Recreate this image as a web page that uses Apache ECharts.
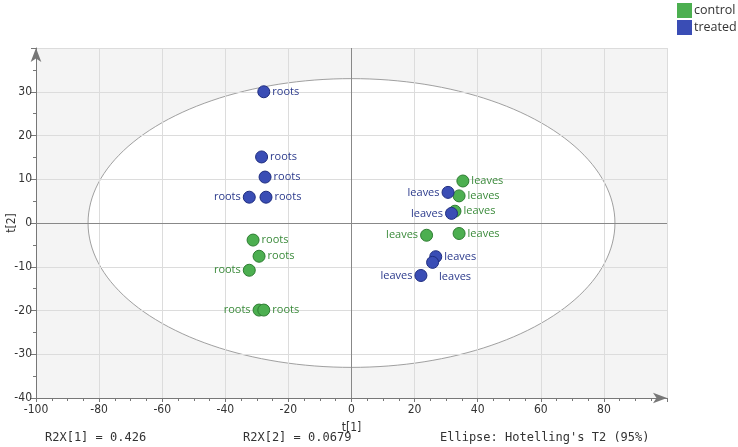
<!DOCTYPE html>
<html>
<head>
<meta charset="utf-8">
<script src="https://cdn.jsdelivr.net/npm/echarts@6/dist/echarts.min.js"></script>
<style>
  html, body { margin: 0; padding: 0; background: #fff; }
  #main { width: 738px; height: 447px; }
</style>
</head>
<body>
<div id="main"></div>
<script>
// score values
var controlX = [-31.2, -29.3, -32.4, -29.3, -27.8, 35.3, 34.1, 32.8, 23.8, 34.1];
var controlY = [-3.9, -7.6, -10.8, -19.9, -19.9, 9.6, 6.2, 2.7, -2.8, -2.4];
var controlNames = ['roots', 'roots', 'roots', 'roots', 'roots', 'leaves', 'leaves', 'leaves', 'leaves', 'leaves'];
var controlSide = ['right', 'right', 'left', 'left', 'right', 'right', 'right', 'right', 'left', 'right'];

var treatedX = [-27.8, -28.5, -27.4, -32.4, -27.1, 30.6, 31.7, 26.7, 25.7, 22.0];
var treatedY = [30.0, 15.1, 10.5, 5.9, 5.9, 7.0, 2.2, -7.7, -9.0, -12.0];
var treatedNames = ['roots', 'roots', 'roots', 'roots', 'roots', 'leaves', 'leaves', 'leaves', 'leaves', 'leaves'];
var treatedSide = ['right', 'right', 'right', 'left', 'right', 'left', 'left', 'right', 'below', 'left'];

// Hotelling's T2 (95%) ellipse semi axes
var ellipseRx = 83.5;
var ellipseRy = 33.0;

var footTexts = ['R2X[1] = 0.426', 'R2X[2] = 0.0679', "Ellipse: Hotelling's T2 (95%)"];

var labelFont = 'Open Sans';
var tickFont = '"DejaVu Sans Condensed", "DejaVu Sans", sans-serif';

function buildPoints(xs, ys, names, sides) {
    return xs.map(function (x, i) {
        var lab = { position: sides[i] === 'left' ? 'left' : 'right' };
        if (sides[i] === 'below') {
            lab.offset = [-2, 14];
        }
        return { value: [x, ys[i]], name: names[i], label: lab };
    });
}

var chart = echarts.init(document.getElementById('main'));

chart.setOption({
    animation: false,
    backgroundColor: '#fff',
    grid: { left: 36, right: 71, top: 48, bottom: 49, containLabel: false, outerBoundsMode: 'none' },
    legend: {
        orient: 'vertical',
        left: 677,
        top: 3,
        padding: 0,
        icon: 'rect',
        itemWidth: 15,
        itemHeight: 15,
        itemGap: 2,
        itemStyle: { borderWidth: 0 },
        textStyle: { fontFamily: labelFont, fontSize: 12.5, color: '#333', padding: [0, 0, 0, -3] },
        data: ['control', 'treated']
    },
    xAxis: {
        type: 'value',
        min: -100,
        max: 100,
        interval: 20,
        name: 't[1]',
        nameLocation: 'middle',
        nameGap: 24,
        nameMoveOverlap: false,
        nameTextStyle: { fontFamily: tickFont, fontSize: 12, color: '#333' },
        axisLine: {
            onZero: false,
            symbol: ['none', 'arrow'],
            symbolSize: [8, 14],
            lineStyle: { color: '#777' }
        },
        axisTick: { length: 4, lineStyle: { color: '#777' } },
        minorTick: { show: true, splitNumber: 4, length: 3, lineStyle: { color: '#777' } },
        axisLabel: {
            fontFamily: tickFont, fontSize: 12, color: '#333', margin: 6,
            formatter: function (v) { return v === 100 ? '' : v; }
        },
        splitLine: { lineStyle: { color: '#dcdcdc' } }
    },
    yAxis: {
        type: 'value',
        min: -40,
        max: 40,
        interval: 10,
        name: 't[2]',
        nameLocation: 'middle',
        nameGap: 18,
        nameMoveOverlap: false,
        nameRotate: 90,
        nameTextStyle: { fontFamily: tickFont, fontSize: 12, color: '#333' },
        axisLine: {
            show: true,
            onZero: false,
            symbol: ['none', 'arrow'],
            symbolSize: [8, 14],
            lineStyle: { color: '#777' }
        },
        axisTick: { show: true, length: 5, lineStyle: { color: '#777' } },
        minorTick: { show: true, splitNumber: 2, length: 3, lineStyle: { color: '#777' } },
        axisLabel: {
            fontFamily: tickFont, fontSize: 12, color: '#333', margin: 4,
            formatter: function (v) { return v === 40 ? '' : v; }
        },
        splitLine: { lineStyle: { color: '#dcdcdc' } }
    },
    graphic: footTexts.map(function (t, i) {
        return {
            type: 'text',
            left: [45, 243, 440][i],
            top: 432,
            style: { text: t, font: '12px "DejaVu Sans Mono", monospace', fill: '#333' }
        };
    }),
    series: [
        {
            type: 'custom',
            z: -1,
            silent: true,
            data: [[0, 0]],
            renderItem: function (params, api) {
                var cs = params.coordSys;
                var c = api.coord([0, 0]);
                var rx = api.coord([ellipseRx, 0])[0] - c[0];
                var ry = c[1] - api.coord([0, ellipseRy])[1];
                var pts = [];
                for (var k = 0; k < 180; k++) {
                    var a = k / 180 * Math.PI * 2;
                    pts.push([c[0] + rx * Math.cos(a), c[1] + ry * Math.sin(a)]);
                }
                return {
                    type: 'group',
                    children: [
                        { type: 'rect', shape: { x: cs.x, y: cs.y, width: cs.width, height: cs.height },
                          style: { fill: '#f4f4f4' } },
                        { type: 'polygon', shape: { points: pts },
                          style: { fill: '#fff', stroke: '#a0a0a0', lineWidth: 1 } }
                    ]
                };
            }
        },
        {
            name: 'control',
            type: 'scatter',
            symbolSize: 12,
            itemStyle: { color: '#4caf50', borderColor: '#2e7d32', borderWidth: 1, opacity: 1 },
            label: {
                show: true,
                formatter: '{b}',
                distance: 2,
                fontFamily: labelFont,
                fontSize: 11,
                color: '#3a8a3a'
            },
            markLine: {
                silent: true,
                symbol: 'none',
                label: { show: false },
                lineStyle: { color: '#888', type: 'solid', width: 1 },
                data: [{ xAxis: 0 }, { yAxis: 0 }]
            },
            data: buildPoints(controlX, controlY, controlNames, controlSide)
        },
        {
            name: 'treated',
            type: 'scatter',
            symbolSize: 12,
            itemStyle: { color: '#3a4db5', borderColor: '#1f2d80', borderWidth: 1, opacity: 1 },
            label: {
                show: true,
                formatter: '{b}',
                distance: 2,
                fontFamily: labelFont,
                fontSize: 11,
                color: '#2b3a8c'
            },
            data: buildPoints(treatedX, treatedY, treatedNames, treatedSide)
        }
    ]
});
</script>
</body>
</html>
